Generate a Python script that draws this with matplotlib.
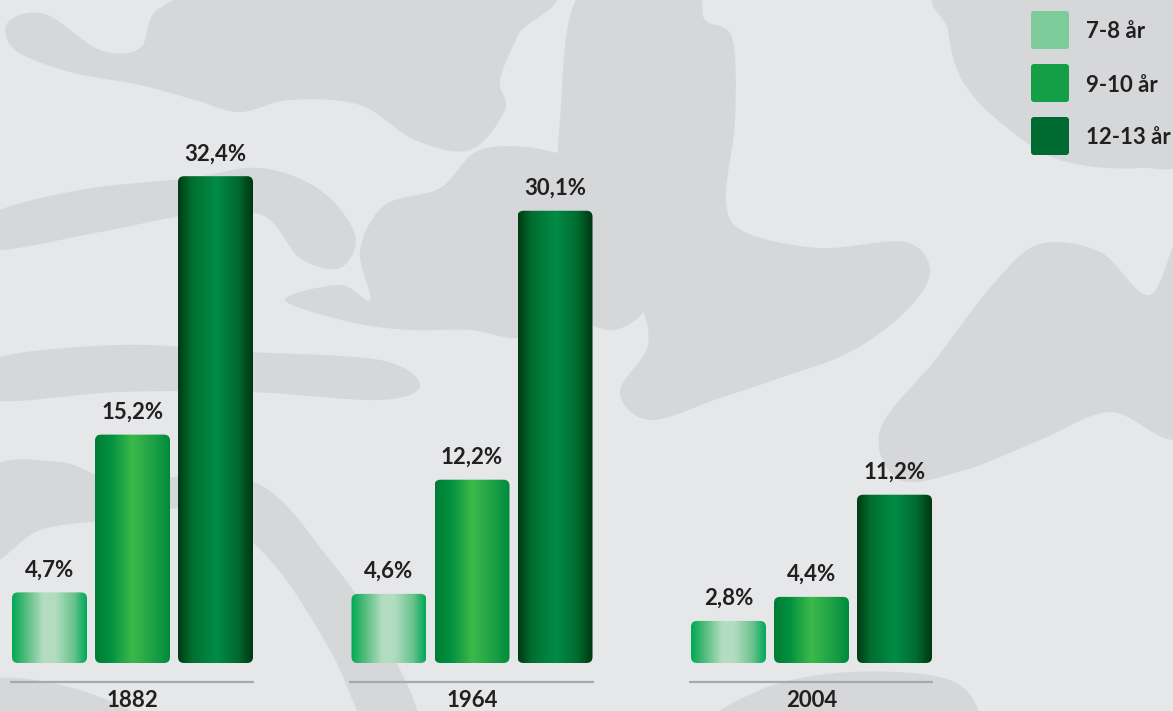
import matplotlib
matplotlib.use("Agg")
import matplotlib.pyplot as plt
from matplotlib.patches import FancyBboxPatch, Polygon
from matplotlib.colors import LinearSegmentedColormap
import numpy as np

plt.rcParams["font.family"] = ["Lato", "DejaVu Sans"]

# data
years = ["1882", "1964", "2004"]
groups = ["7-8 år", "9-10 år", "12-13 år"]
v_78 = [4.7, 4.6, 2.8]
v_910 = [15.2, 12.2, 4.4]
v_1213 = [32.4, 30.1, 11.2]
labels_78 = ["4,7%", "4,6%", "2,8%"]
labels_910 = ["15,2%", "12,2%", "4,4%"]
labels_1213 = ["32,4%", "30,1%", "11,2%"]

TXT = "#231f20"
BG = "#e6e7e9"
BLOB = "#d6d7d9"
LEG_COLS = ["#7dcb98", "#149f46", "#006a31"]

# horizontal gradient stops per series
GRADS = [
    [(0.0, "#00a955"), (0.15, "#45b874"), (0.42, "#b4ddc2"), (0.58, "#b2dcc0"), (0.82, "#6cc48f"), (1.0, "#00a957")],
    [(0.0, "#007c35"), (0.2, "#00903f"), (0.5, "#3db94a"), (0.8, "#1b9f45"), (1.0, "#008a3d")],
    [(0.0, "#003a10"), (0.18, "#006e2f"), (0.5, "#008c45"), (0.8, "#006b2e"), (1.0, "#003611")],
]

W, H = 1173, 711
fig = plt.figure(figsize=(W / 100, H / 100), dpi=100, facecolor=BG)


def smooth(pts, n=24):
    P = np.array(pts, float)
    N = len(P)
    t = np.linspace(0, 1, n, endpoint=False)[:, None]
    out = []
    for i in range(N):
        p0, p1, p2, p3 = P[i - 1], P[i], P[(i + 1) % N], P[(i + 2) % N]
        out.append(0.5 * (2 * p1 + (-p0 + p2) * t + (2 * p0 - 5 * p1 + 4 * p2 - p3) * t ** 2
                          + (-p0 + 3 * p1 - 3 * p2 + p3) * t ** 3))
    return np.vstack(out)


# ── background camouflage ─────────────────────────────────────────────
ax_bg = fig.add_axes([0, 0, 1, 1])
ax_bg.set_xlim(0, W); ax_bg.set_ylim(H, 0)
ax_bg.axis("off")
ax_bg.set_facecolor(BG)

blobs = [
    [(8, 22), (45, 14), (100, 50), (140, 48), (160, 8), (240, -10), (540, -10), (518, 35),
     (500, 80), (505, 110), (470, 150), (415, 140), (360, 105), (290, 100), (240, 112),
     (195, 100), (140, 85), (70, 72), (15, 50)],
    [(-10, 215), (80, 190), (190, 178), (260, 168), (320, 190), (355, 235), (340, 268),
     (300, 258), (262, 215), (190, 215), (100, 232), (-10, 250)],
    [(285, 300), (340, 285), (370, 300), (360, 250), (385, 205), (440, 188), (480, 150),
     (545, 150), (600, 175), (640, 235), (650, 300), (615, 330), (570, 320), (520, 338),
     (470, 330), (410, 330), (350, 322)],
    [(583, -10), (690, -10), (705, 20), (732, 38), (735, 120), (726, 200), (745, 232),
     (820, 248), (905, 242), (930, 272), (905, 312), (850, 352), (780, 378), (720, 398),
     (650, 420), (620, 392), (648, 345), (636, 300), (596, 282), (560, 250), (560, 120)],
    [(950, -10), (1185, -10), (1185, 150), (1140, 168), (1060, 160), (1000, 122),
     (962, 80), (948, 30)],
    [(1185, 230), (1185, 430), (1110, 412), (1040, 440), (965, 470), (900, 480),
     (880, 430), (935, 360), (995, 282), (1040, 244), (1100, 252), (1150, 295)],
    [(-10, 360), (120, 345), (250, 352), (380, 360), (420, 385), (380, 400), (250, 392),
     (120, 392), (-10, 400)],
    [(-10, 470), (60, 462), (120, 480), (250, 480), (330, 560), (390, 650), (420, 730),
     (370, 730), (330, 650), (270, 560), (200, 510), (110, 520), (40, 530), (-10, 560)],
    [(720, 730), (760, 690), (850, 672), (950, 680), (980, 720), (950, 740)],
    [(-10, 680), (80, 690), (150, 730), (-10, 730)],
]
for b in blobs:
    ax_bg.add_patch(Polygon(smooth(b), closed=True, fc=BLOB, ec="none", zorder=1))

# ── legend ────────────────────────────────────────────────────────────
for i, (lbl, col) in enumerate(zip(groups, LEG_COLS)):
    y0 = 11 + i * 53
    ax_bg.add_patch(FancyBboxPatch((1031, y0), 38, 38, boxstyle="round,pad=0,rounding_size=3",
                                   fc=col, ec="none", zorder=3))
    ax_bg.text(1086, y0 + 19, lbl, ha="left", va="center_baseline", fontsize=16,
               fontweight="bold", color=TXT, zorder=4)

# ── bars ──────────────────────────────────────────────────────────────
ax = fig.add_axes([0, 48 / H, 1, 601 / H])
ax.set_facecolor("none")
ax.axis("off")
ax.set_xlim(-0.3903, 3.0648)
ax.set_ylim(0, 40)

x = np.arange(len(years))
step, bw = 0.2445, 0.2209
xunit = (3.0648 + 0.3903) / W
yunit = 40 / 601
asp = yunit / xunit

series = [(v_78, labels_78), (v_910, labels_910), (v_1213, labels_1213)]
for j, (vals, labs) in enumerate(series):
    bars = ax.bar(x + (j - 1) * step, vals, bw, color="none", edgecolor="none")
    cmap = LinearSegmentedColormap.from_list(f"g{j}", GRADS[j])
    grad = np.linspace(0, 1, 256)[None, :]
    for rect, lab in zip(bars, labs):
        x0, w, h = rect.get_x(), rect.get_width(), rect.get_height()
        clip = FancyBboxPatch((x0, 0), w, h, boxstyle=f"round,pad=0,rounding_size={6 * xunit}",
                              mutation_aspect=asp, fc="none", ec="none")
        ax.add_patch(clip)
        im = ax.imshow(grad, cmap=cmap, extent=(x0, x0 + w, 0, h), aspect="auto",
                       interpolation="bicubic", zorder=3)
        im.set_clip_path(clip)
        ax.annotate(lab, (x0 + w / 2, h), xytext=(0, 11.5), textcoords="offset points",
                    ha="center", va="baseline", fontsize=16, fontweight="bold", color=TXT)

ax.set_xlim(-0.3903, 3.0648)
ax.set_ylim(0, 40)

# baseline rules + year labels
for xi, yr in zip(x, years):
    ax.annotate("", (xi - 0.362, 0), xytext=(xi + 0.359, 0))
    ax.plot([xi - 0.362, xi + 0.359], [-19 * yunit] * 2, color="#a7a9ac", lw=1.6,
            solid_capstyle="butt", clip_on=False)
    ax.annotate(yr, (xi, 0), xytext=(0, -31.7), textcoords="offset points",
                ha="center", va="baseline", fontsize=16, fontweight="bold", color=TXT)

fig.savefig("out.png", dpi=100, facecolor=BG)
